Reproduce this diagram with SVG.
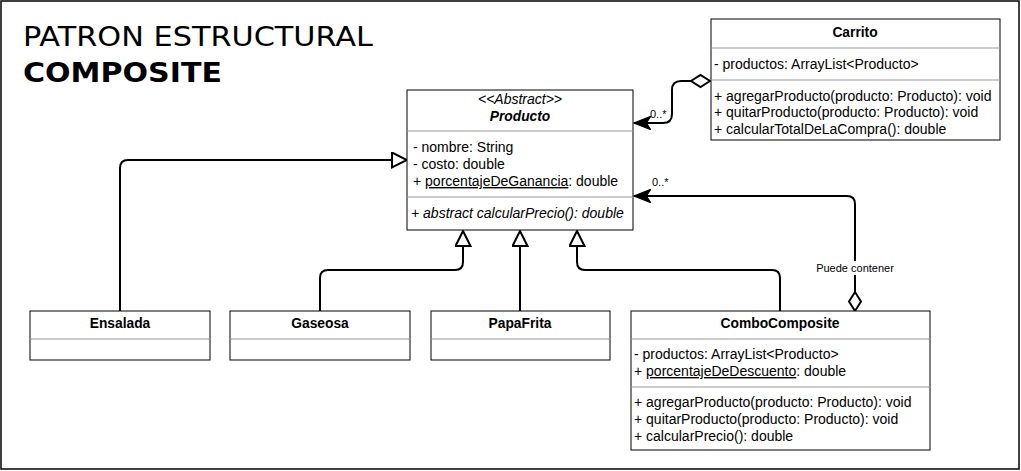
<svg xmlns="http://www.w3.org/2000/svg" width="1021" height="471" viewBox="0 0 1021 471">
<style>
.box{fill:#fff;stroke:#000;stroke-width:1}
.sep{stroke:#999;stroke-width:1}
.t{font-family:"Liberation Sans",Arial,sans-serif;font-size:14px;fill:#000}
.h{font-weight:bold;text-anchor:middle;font-size:13.8px}
.c{fill:none;stroke:#000;stroke-width:2}
.lbl{font-family:"Liberation Sans",Arial,sans-serif;font-size:11px;fill:#000}
.title{font-family:"DejaVu Sans",Verdana,sans-serif;font-size:27px;fill:#000}
</style>
<defs>
<marker id="tri" markerUnits="userSpaceOnUse" markerWidth="18" markerHeight="18" viewBox="-1 -1 18 18" refX="15" refY="7.5" orient="auto">
<path d="M0,0 L15,7.5 L0,15 Z" fill="#fff" stroke="#000" stroke-width="2"/>
</marker>
<marker id="dia" markerUnits="userSpaceOnUse" markerWidth="24" markerHeight="16" viewBox="-2 -2 24 16" refX="0" refY="6" orient="auto">
<path d="M0,6 L9.5,0 L19,6 L9.5,12 Z" fill="#fff" stroke="#000" stroke-width="2"/>
</marker>
<marker id="arr" markerUnits="userSpaceOnUse" markerWidth="18" markerHeight="14" viewBox="0 0 16 12" refX="15" refY="6" orient="auto">
<path d="M0,0 L15,6 L0,12 L4,6 Z" fill="#000" stroke="#000" stroke-width="1"/>
</marker>
</defs>
<rect x="0" y="0" width="1021" height="471" fill="#fff"/>
<rect x="1" y="1" width="1018" height="468" fill="none" stroke="#000" stroke-width="1.5"/>

<g id="title">
<text class="title" x="23" y="46" textLength="350" lengthAdjust="spacingAndGlyphs">PATRON ESTRUCTURAL</text>
<text class="title" x="23" y="82" font-weight="bold" textLength="199" lengthAdjust="spacingAndGlyphs">COMPOSITE</text>
</g>

<g id="connectors">
<path class="c" d="M120,311 V168 Q120,160 128,160 H407" marker-end="url(#tri)"/>
<path class="c" d="M320,311 V278 Q320,270 328,270 H455 Q463,270 463,262 V231" marker-end="url(#tri)"/>
<path class="c" d="M520,311 V231" marker-end="url(#tri)"/>
<path class="c" d="M780,311 V278 Q780,270 772,270 H585 Q577,270 577,262 V231" marker-end="url(#tri)"/>
<path class="c" d="M710,81 H681 Q672,81 672,90 V114 Q672,123 663,123 H634" marker-start="url(#dia)" marker-end="url(#arr)"/>
<path class="c" d="M855,311 V204 Q855,196 847,196 H634" marker-start="url(#dia)" marker-end="url(#arr)"/>
<text class="lbl" x="650" y="118">0..*</text>
<text class="lbl" x="652" y="186">0..*</text>
<rect x="814" y="261" width="82" height="14" fill="#fff"/>
<text class="lbl" x="855" y="272" text-anchor="middle">Puede contener</text>
</g>

<g id="producto">
<rect class="box" x="407" y="90" width="226" height="140"/>
<text class="t" x="520" y="104" text-anchor="middle" font-style="italic">&lt;&lt;Abstract&gt;&gt;</text>
<text class="t h" x="520" y="121" font-style="italic">Producto</text>
<line class="sep" x1="407" y1="131" x2="633" y2="131"/>
<text class="t" x="413" y="152">- nombre: String</text>
<text class="t" x="413" y="169">- costo: double</text>
<text class="t" x="413" y="186">+ <tspan text-decoration="underline">porcentajeDeGanancia</tspan>: double</text>
<line class="sep" x1="407" y1="197" x2="633" y2="197"/>
<text class="t" x="411" y="218" font-style="italic">+ abstract calcularPrecio(): double</text>
</g>

<g id="carrito">
<rect class="box" x="711" y="19" width="289" height="121"/>
<text class="t h" x="855" y="37">Carrito</text>
<line class="sep" x1="711" y1="48" x2="1000" y2="48"/>
<text class="t" x="714" y="69">- productos: ArrayList&lt;Producto&gt;</text>
<line class="sep" x1="711" y1="80" x2="1000" y2="80"/>
<text class="t" x="714" y="101">+ agregarProducto(producto: Producto): void</text>
<text class="t" x="714" y="117">+ quitarProducto(producto: Producto): void</text>
<text class="t" x="714" y="134">+ calcularTotalDeLaCompra(): double</text>
</g>

<g id="ensalada">
<rect class="box" x="30" y="311" width="180" height="49"/>
<text class="t h" x="120" y="328">Ensalada</text>
<line class="sep" x1="30" y1="339" x2="210" y2="339"/>
</g>

<g id="gaseosa">
<rect class="box" x="230" y="311" width="180" height="49"/>
<text class="t h" x="320" y="328">Gaseosa</text>
<line class="sep" x1="230" y1="339" x2="410" y2="339"/>
</g>

<g id="papafrita">
<rect class="box" x="431" y="311" width="179" height="49"/>
<text class="t h" x="520" y="328">PapaFrita</text>
<line class="sep" x1="431" y1="339" x2="610" y2="339"/>
</g>

<g id="combocomposite">
<rect class="box" x="631" y="311" width="299" height="139"/>
<text class="t h" x="780" y="328">ComboComposite</text>
<line class="sep" x1="631" y1="339" x2="930" y2="339"/>
<text class="t" x="634" y="359">- productos: ArrayList&lt;Producto&gt;</text>
<text class="t" x="634" y="376">+ <tspan text-decoration="underline">porcentajeDeDescuento</tspan>: double</text>
<line class="sep" x1="631" y1="387" x2="930" y2="387"/>
<text class="t" x="634" y="407">+ agregarProducto(producto: Producto): void</text>
<text class="t" x="634" y="424">+ quitarProducto(producto: Producto): void</text>
<text class="t" x="634" y="441">+ calcularPrecio(): double</text>
</g>
</svg>
